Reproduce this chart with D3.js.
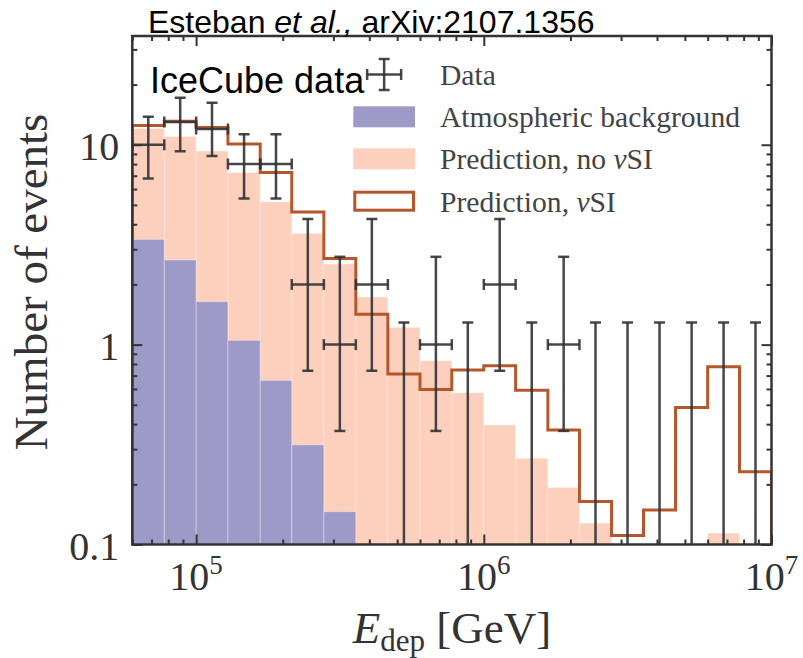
<!DOCTYPE html>
<html>
<head>
<meta charset="utf-8">
<script src="https://cdn.jsdelivr.net/npm/d3@7"></script>
<style>
    body { margin: 0; background: #fff; }
    svg { display: block; }
    .serif { font-family: "Liberation Serif", "DejaVu Serif", serif; }
    .sans { font-family: "Liberation Sans", Arial, sans-serif; }
</style>
</head>
<body>
<div id="chart"></div>
<script>

// 20 log bins, 60 TeV - 10 PeV
const binEdges = [6.0e4, 7.75e4, 1.0e5, 1.29e5, 1.67e5, 2.15e5, 2.78e5, 3.59e5, 4.64e5, 6.0e5, 7.74e5,
    1.0e6, 1.29e6, 1.67e6, 2.15e6, 2.78e6, 3.59e6, 4.64e6, 6.0e6, 7.74e6, 1.0e7];

const atmBackground = [3.36, 2.65, 1.64, 1.05, 0.662, 0.315, 0.146, 0, 0, 0,
    0, 0, 0, 0, 0, 0, 0, 0, 0, 0];

const predNoSI = [12.05, 11.0, 9.3, 7.26, 5.18, 3.6, 2.53, 1.73, 1.22, 0.83,
    0.574, 0.396, 0.27, 0.193, 0.128, 0, 0, 0, 0.114, 0];

const predSI = [12.5, 13.1, 12.2, 10.1, 7.26, 4.61, 2.7, 1.42, 0.712, 0.597,
    0.746, 0.783, 0.592, 0.374, 0.164, 0.111, 0.149, 0.485, 0.774, 0.231];

const dataCounts = [10, 13, 12, 8, 8, 2, 1, 2, 0, 1, 0, 2, 0, 1, 0, 0, 0, 0, 0, 0];
const dataErrLow = [6.78, 9.28, 8.79, 5.38, 5.38, 0.74, 0.37, 0.74, 0, 0.37, 0, 0.74, 0, 0.37, 0, 0, 0, 0, 0, 0];
const dataErrHigh = [13.8, 17.2, 16.2, 11.3, 11.3, 4.25, 2.75, 4.25, 1.29, 2.75, 1.29, 4.25, 1.29, 2.75,
    1.29, 1.29, 1.29, 1.29, 1.29, 1.29];

const xMajorTicks = [1e5, 1e6, 1e7];
const xTickExponents = ["5", "6", "7"];
const yMajorTicks = [0.1, 1, 10];
const yTickLabels = ["0.1", "1", "10"];

const legendLabels = ["Data", "Atmospheric background", "Prediction, no ", "Prediction, "];

class eventsChart {

    constructor(opts) {
        this.element = opts.element;
        this.colors = {
            atm: "#9e9ac8",
            noSI: "#fdcfbd",
            si: "#b5562b",
            data: "#333333",
            frame: "#333333"
        };
        this.update();
    }

    _setDimensions() {
        this.margin = {
            top: 36,
            right: 31.5,
            bottom: 113.5,
            left: 132.3
        };
        this.outerWidth = 803;
        this.outerHeight = 658;
        this.width = this.outerWidth - this.margin.left - this.margin.right;
        this.height = this.outerHeight - this.margin.top - this.margin.bottom;
    }

    _setScales() {
        this.xScale = d3.scaleLog()
            .domain([binEdges[0], binEdges[binEdges.length - 1]])
            .range([0, this.width]);

        this.yScale = d3.scaleLog()
            .domain([0.1, 35])
            .range([this.height, 0]);

        this.bins = d3.range(binEdges.length - 1).map(i => {
            return {
                lo: binEdges[i],
                hi: binEdges[i + 1],
                mid: Math.sqrt(binEdges[i] * binEdges[i + 1]),
                atm: atmBackground[i],
                noSI: predNoSI[i],
                si: predSI[i],
                n: dataCounts[i],
                errLo: dataErrLow[i],
                errHi: dataErrHigh[i]
            };
        });
    }

    update() {
        this._setDimensions();
        this._setScales();
        this.draw();
    }

    _bars(key, color) {
        let shown = this.bins.filter(d => d[key] > 0);
        this.plot.append("g")
            .attr("clip-path", "url(#plot-clip)")
            .selectAll("rect")
            .data(shown).enter()
            .append("rect")
            .attr("x", d => this.xScale(d.lo))
            .attr("width", d => this.xScale(d.hi) - this.xScale(d.lo))
            .attr("y", d => this.yScale(d[key]))
            .attr("height", d => Math.max(0, this.height - this.yScale(d[key])))
            .attr("fill", color)
            .attr("stroke", "rgba(255,255,255,0.35)")
            .attr("stroke-width", 1);
    }

    draw() {
        this.element.innerHTML = "";

        this.svg = d3.select(this.element).append("svg")
            .attr("width", this.outerWidth)
            .attr("height", this.outerHeight);

        this.svg.append("defs").append("clipPath")
            .attr("id", "plot-clip")
            .append("rect")
            .attr("width", this.width)
            .attr("height", this.height);

        this.plot = this.svg.append("g")
            .attr("transform", `translate(${this.margin.left},${this.margin.top})`);

        // histograms
        this._bars("noSI", this.colors.noSI);
        this._bars("atm", this.colors.atm);

        // nu SI step line
        let steps = [[binEdges[0], 0.1]];
        this.bins.forEach(d => {
            steps.push([d.lo, d.si]);
            steps.push([d.hi, d.si]);
        });
        steps.push([binEdges[binEdges.length - 1], 0.1]);

        let stepLine = d3.line()
            .x(d => this.xScale(d[0]))
            .y(d => this.yScale(d[1]));

        this.plot.append("path")
            .attr("clip-path", "url(#plot-clip)")
            .attr("d", stepLine(steps))
            .attr("fill", "none")
            .attr("stroke", this.colors.si)
            .attr("stroke-width", 3)
            .attr("stroke-linejoin", "miter");

        // data points with error bars
        this.drawData();

        // ticks & frame
        this.drawAxes();

        this.drawLegend();

        this.drawText();
    }

    drawData() {
        let cap = 5.5;
        let g = this.plot.append("g")
            .attr("clip-path", "url(#plot-clip)")
            .attr("stroke", this.colors.data)
            .attr("stroke-width", 2.5)
            .attr("stroke-opacity", 0.9);

        let pts = g.selectAll(".pt")
            .data(this.bins).enter()
            .append("g")
            .attr("class", "pt");

        pts.append("line")
            .attr("x1", d => this.xScale(d.mid))
            .attr("x2", d => this.xScale(d.mid))
            .attr("y1", d => d.errLo > 0 ? this.yScale(d.errLo) : this.height + 5)
            .attr("y2", d => this.yScale(d.errHi));

        pts.append("line")
            .attr("x1", d => this.xScale(d.mid) - cap)
            .attr("x2", d => this.xScale(d.mid) + cap)
            .attr("y1", d => this.yScale(d.errHi))
            .attr("y2", d => this.yScale(d.errHi));

        let withLow = pts.filter(d => d.errLo > 0);
        withLow.append("line")
            .attr("x1", d => this.xScale(d.mid) - cap)
            .attr("x2", d => this.xScale(d.mid) + cap)
            .attr("y1", d => this.yScale(d.errLo))
            .attr("y2", d => this.yScale(d.errLo));

        let withCount = pts.filter(d => d.n > 0);
        withCount.append("line")
            .attr("x1", d => this.xScale(d.lo))
            .attr("x2", d => this.xScale(d.hi))
            .attr("y1", d => this.yScale(d.n))
            .attr("y2", d => this.yScale(d.n));
        ["lo", "hi"].forEach(k => {
            withCount.append("line")
                .attr("x1", d => this.xScale(d[k]))
                .attr("x2", d => this.xScale(d[k]))
                .attr("y1", d => this.yScale(d.n) - cap)
                .attr("y2", d => this.yScale(d.n) + cap);
        });
    }

    drawAxes() {
        let xMinor = this.xScale.ticks().filter(t => xMajorTicks.indexOf(t) < 0);
        let yMinor = this.yScale.ticks().filter(t => yMajorTicks.indexOf(t) < 0);

        let axes = [
            [d3.axisBottom(this.xScale).tickValues(xMajorTicks).tickSize(-10), `translate(0,${this.height})`],
            [d3.axisBottom(this.xScale).tickValues(xMinor).tickSize(-5), `translate(0,${this.height})`],
            [d3.axisTop(this.xScale).tickValues(xMajorTicks).tickSize(-10), null],
            [d3.axisTop(this.xScale).tickValues(xMinor).tickSize(-5), null],
            [d3.axisLeft(this.yScale).tickValues(yMajorTicks).tickSize(-10), null],
            [d3.axisLeft(this.yScale).tickValues(yMinor).tickSize(-5), null],
            [d3.axisRight(this.yScale).tickValues(yMajorTicks).tickSize(-10), `translate(${this.width},0)`],
            [d3.axisRight(this.yScale).tickValues(yMinor).tickSize(-5), `translate(${this.width},0)`]
        ];

        axes.forEach(a => {
            let g = this.plot.append("g")
                .attr("class", "axis")
                .call(a[0].tickFormat(""));
            if (a[1]) g.attr("transform", a[1]);
            g.select(".domain").remove();
            g.selectAll("line")
                .attr("stroke", this.colors.frame)
                .attr("stroke-width", 2);
        });

        this.plot.append("rect")
            .attr("width", this.width)
            .attr("height", this.height)
            .attr("fill", "none")
            .attr("stroke", this.colors.frame)
            .attr("stroke-width", 2.5);

        // tick labels
        this.plot.selectAll(".ylab")
            .data(yMajorTicks).enter()
            .append("text")
            .attr("class", "ylab serif")
            .attr("x", -13)
            .attr("y", d => this.yScale(d) + 15)
            .attr("text-anchor", "end")
            .attr("font-size", 40)
            .attr("fill", "#333")
            .text((d, i) => yTickLabels[i]);

        let xl = this.plot.selectAll(".xlab")
            .data(xMajorTicks).enter()
            .append("text")
            .attr("class", "xlab serif")
            .attr("x", d => this.xScale(d))
            .attr("y", this.height + 45.5)
            .attr("text-anchor", "middle")
            .attr("font-size", 40)
            .attr("fill", "#333");
        xl.append("tspan").text("10");
        xl.append("tspan")
            .attr("font-size", 27)
            .attr("dy", -16)
            .text((d, i) => xTickExponents[i]);
    }

    drawLegend() {
        let lg = this.svg.append("g");
        let rows = [85, 127.3, 169.3, 211.7];
        let hx = 353.3, hw = 61.7, hh = 21;

        // data handle
        let dg = lg.append("g")
            .attr("stroke", this.colors.data)
            .attr("stroke-width", 2.5)
            .attr("stroke-opacity", 0.9);
        let cx = hx + hw / 2, cy = 74.5;
        dg.append("line").attr("x1", cx - 17).attr("x2", cx + 17).attr("y1", cy).attr("y2", cy);
        dg.append("line").attr("x1", cx).attr("x2", cx).attr("y1", cy - 15.5).attr("y2", cy + 15.5);
        dg.append("line").attr("x1", cx - 5.5).attr("x2", cx + 5.5).attr("y1", cy - 15.5).attr("y2", cy - 15.5);
        dg.append("line").attr("x1", cx - 5.5).attr("x2", cx + 5.5).attr("y1", cy + 15.5).attr("y2", cy + 15.5);
        dg.append("line").attr("x1", cx - 17).attr("x2", cx - 17).attr("y1", cy - 5.5).attr("y2", cy + 5.5);
        dg.append("line").attr("x1", cx + 17).attr("x2", cx + 17).attr("y1", cy - 5.5).attr("y2", cy + 5.5);

        lg.append("rect")
            .attr("x", hx).attr("y", rows[1] - hh)
            .attr("width", hw).attr("height", hh)
            .attr("fill", this.colors.atm);
        lg.append("rect")
            .attr("x", hx).attr("y", rows[2] - hh)
            .attr("width", hw).attr("height", hh)
            .attr("fill", this.colors.noSI);
        lg.append("rect")
            .attr("x", hx + 1.5).attr("y", rows[3] - hh + 1.5)
            .attr("width", hw - 3).attr("height", hh - 3)
            .attr("fill", "#fff")
            .attr("stroke", this.colors.si)
            .attr("stroke-width", 3);

        let txt = lg.selectAll(".lgtxt")
            .data(legendLabels).enter()
            .append("text")
            .attr("class", "lgtxt serif")
            .attr("x", 440)
            .attr("y", (d, i) => rows[i])
            .attr("font-size", 29.6)
            .attr("fill", "#444");
        txt.append("tspan").text(d => d);
        txt.filter((d, i) => i >= 2).append("tspan")
            .attr("font-style", "italic")
            .text("\u03BD");
        txt.filter((d, i) => i >= 2).append("tspan")
            .text("SI");
    }

    drawText() {
        let head = this.svg.append("text")
            .attr("class", "sans")
            .attr("x", 148)
            .attr("y", 33)
            .attr("font-size", 32)
            .attr("fill", "#000");
        head.append("tspan").text("Esteban ");
        head.append("tspan").attr("font-style", "italic").text("et al.,");
        head.append("tspan").text(" arXiv:2107.1356");

        this.svg.append("text")
            .attr("class", "sans")
            .attr("x", 150)
            .attr("y", 93)
            .attr("font-size", 36)
            .attr("fill", "#000")
            .text("IceCube data");

        this.svg.append("text")
            .attr("class", "serif")
            .attr("transform", "translate(47,282) rotate(-90)")
            .attr("text-anchor", "middle")
            .attr("font-size", 47)
            .attr("fill", "#333")
            .text("Number of events");

        let xl = this.svg.append("text")
            .attr("class", "serif")
            .attr("x", this.margin.left + this.width / 2)
            .attr("y", 643)
            .attr("text-anchor", "middle")
            .attr("font-size", 45)
            .attr("fill", "#333");
        xl.append("tspan").attr("font-style", "italic").text("E");
        xl.append("tspan").attr("font-size", 31).attr("dy", 8).text("dep");
        xl.append("tspan").attr("dy", -8).text(" [GeV]");
    }
}

new eventsChart({ element: document.getElementById("chart") });

</script>
</body>
</html>
